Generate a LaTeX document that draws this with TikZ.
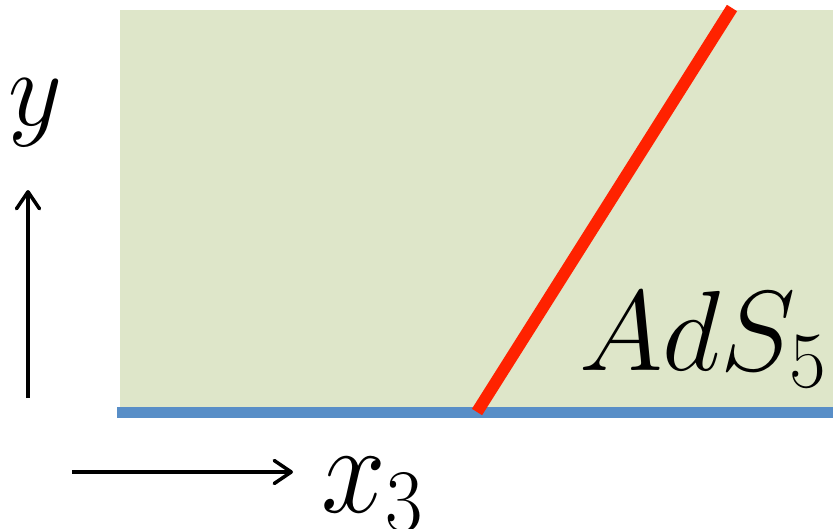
\documentclass[tikz,border=0pt]{standalone}
\usepackage{fix-cm}
\usepackage{graphicx}
\usetikzlibrary{arrows.meta}
\definecolor{bulkgreen}{RGB}{222,230,201}
\definecolor{bdryblue}{RGB}{88,142,199}
\definecolor{branered}{RGB}{255,34,0}
\tikzset{
  axisarrow/.style={line width=3.5pt,-{Straight Barb[length=17pt,width=23pt,line cap=round,line join=round]}},
  lab/.style={inner sep=0pt,outer sep=0pt,anchor=base west}
}
\begin{document}
\begin{tikzpicture}[x=1pt,y=-1pt]
\useasboundingbox (0,0) rectangle (833,528);
% bulk region
\fill[bulkgreen] (120,10) rectangle (833,412);
% boundary
\coordinate (b0) at (117,412);
\coordinate (b1) at (833,412);
\draw[bdryblue,line width=11pt] (b0) -- (b1);
% brane
\coordinate (r0) at (477,412);
\coordinate (r1) at (732,8);
\draw[branered,line width=12pt] (r0) -- (r1);
% axes
\coordinate (ya) at (28,398);
\coordinate (yb) at (28,190);
\draw[axisarrow] (ya) -- (yb);
\coordinate (xa) at (72,472);
\coordinate (xb) at (293,472);
\draw[axisarrow] (xa) -- (xb);
% labels
\node[lab] (ylab) at (9,125) {\scalebox{1}[1.03]{\fontsize{105}{110}\selectfont $y$}};
\node[lab] (xlab) at (321,512) {\scalebox{1}[1.1]{\fontsize{116}{120}\selectfont $x_3$}};
\node[lab] (adslab) at (579,370) {\fontsize{114}{120}\selectfont $AdS_5$};
\end{tikzpicture}
\end{document}
